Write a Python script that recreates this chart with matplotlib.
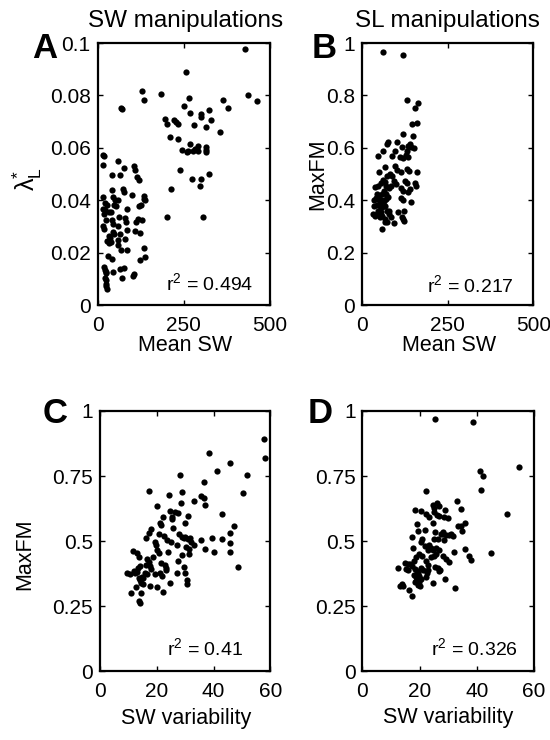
import numpy as np
import matplotlib
matplotlib.use("Agg")
import matplotlib.pyplot as plt

plt.rcParams['font.family'] = ['Liberation Sans', 'DejaVu Sans']
plt.rcParams['mathtext.fontset'] = 'custom'
plt.rcParams['mathtext.rm'] = 'Liberation Sans'
plt.rcParams['mathtext.it'] = 'Liberation Sans:italic'

# panel A: mean SW vs lambda*_L (SW manipulations)
a_x = [430, 256, 130, 136, 184, 69, 71, 267, 250, 268, 301, 301, 323, 329, 315, 281,
       364, 378, 437, 463, 356, 197, 201, 223, 229, 234, 211, 234, 270, 245, 259, 264,
       279, 282, 291, 293, 315, 315, 315, 240, 323, 276, 302, 297, 215, 201, 307,
       17, 19, 15, 59, 41, 66, 78, 105, 108, 116, 120, 17, 41, 44, 51, 75, 76, 59, 100,
       134, 136, 138, 22, 28, 17, 23, 32, 38, 20, 48, 54, 85, 120, 125, 24, 43, 63, 81,
       84, 118, 130, 113, 15, 19, 45, 61, 86, 108, 124, 44, 49, 32, 36, 64, 29, 32, 59,
       81, 39, 67, 86, 59, 136, 30, 41, 123, 137, 18, 22, 25, 46, 66, 77, 71, 102, 107,
       23, 25, 25, 26, 27, 24]
a_y = [0.0978, 0.089, 0.0818, 0.0784, 0.0805, 0.0754, 0.0748, 0.0791, 0.0758, 0.0733,
       0.0729, 0.0718, 0.0743, 0.0705, 0.068, 0.0687, 0.0784, 0.0754, 0.0802, 0.0777,
       0.0659, 0.0709, 0.0691, 0.0707, 0.070, 0.069, 0.0641, 0.0634, 0.0614, 0.0593,
       0.0584, 0.0587, 0.0588, 0.0597, 0.0606, 0.0587, 0.0603, 0.0584, 0.0593, 0.0517,
       0.0501, 0.0481, 0.0481, 0.0453, 0.0443, 0.0337, 0.0337,
       0.0574, 0.0567, 0.0533, 0.0551, 0.0495, 0.0495, 0.0524, 0.0532, 0.0517, 0.049,
       0.0476, 0.0412, 0.044, 0.0412, 0.0402, 0.0444, 0.0431, 0.0402, 0.0419, 0.0415,
       0.0406, 0.040, 0.0389, 0.038, 0.0368, 0.0361, 0.0357, 0.0354, 0.0349, 0.0383,
       0.0377, 0.0368, 0.0379, 0.038, 0.0326, 0.0326, 0.0336, 0.0332, 0.0317, 0.033,
       0.0326, 0.0316, 0.030, 0.029, 0.0309, 0.030, 0.0288, 0.0284, 0.0275, 0.0277,
       0.0272, 0.0265, 0.0256, 0.0271, 0.0243, 0.0237, 0.0247, 0.0252, 0.024, 0.0211,
       0.0211, 0.023, 0.0218, 0.0188, 0.0176, 0.0173, 0.0183, 0.0145, 0.0135, 0.0125,
       0.0126, 0.0137, 0.0142, 0.0103, 0.0109, 0.0118, 0.0103, 0.0094, 0.0081, 0.0071,
       0.0061, 0.0122]

# panel B: mean SW vs MaxFM (SL manipulations)
b_x = [61, 118, 132, 162, 153, 145, 160, 120, 149, 76, 71, 102, 115, 139, 135, 152, 142,
       47, 60, 86, 96, 130, 110, 118, 128, 134, 50, 66, 96, 102, 112, 132, 137, 161,
       73, 81, 87, 61, 65, 56, 93, 98, 126, 130, 153, 157, 37, 45, 69, 77, 83, 112, 120,
       139, 135, 42, 50, 57, 63, 69, 76, 34, 40, 47, 52, 58, 56, 63, 69, 112, 118, 141,
       34, 42, 52, 59, 67, 45, 54, 71, 79, 32, 38, 44, 52, 59, 66, 77, 84, 105, 122,
       118, 122, 116, 93, 57, 66, 73]
b_y = [0.967, 0.955, 0.784, 0.771, 0.752, 0.691, 0.693, 0.651, 0.644, 0.621, 0.613,
       0.623, 0.604, 0.614, 0.608, 0.600, 0.602, 0.570, 0.589, 0.570, 0.589, 0.589,
       0.566, 0.560, 0.573, 0.564, 0.509, 0.525, 0.532, 0.517, 0.506, 0.519, 0.513,
       0.506, 0.494, 0.500, 0.491, 0.478, 0.471, 0.466, 0.475, 0.462, 0.475, 0.466,
       0.466, 0.455, 0.449, 0.453, 0.455, 0.445, 0.455, 0.445, 0.435, 0.443, 0.430,
       0.424, 0.417, 0.424, 0.434, 0.424, 0.411, 0.402, 0.410, 0.405, 0.394, 0.402,
       0.392, 0.398, 0.405, 0.407, 0.400, 0.392, 0.379, 0.382, 0.379, 0.373, 0.379,
       0.360, 0.356, 0.360, 0.360, 0.347, 0.341, 0.346, 0.335, 0.341, 0.328, 0.347,
       0.335, 0.354, 0.360, 0.328, 0.322, 0.335, 0.313, 0.290, 0.318, 0.316]

# panel C: SW variability vs MaxFM (SW manipulations)
c_x = [57.8, 58.1, 38.4, 41.2, 45.6, 51.7, 28.2, 36.5, 50.3, 17.4, 29.0, 24.3, 35.6,
       36.5, 36.9, 33.1, 28.5, 20.2, 42.8, 24.6, 26.3, 27.5, 25.3, 25.4, 22.0, 31.0,
       21.0, 21.3, 30.0, 25.7, 18.1, 20.6, 17.3, 16.1, 22.5, 27.8, 28.8, 29.4, 30.0,
       31.0, 31.8, 32.0, 33.0, 23.6, 19.2, 19.6, 25.1, 27.1, 30.4, 31.2, 31.3, 35.6,
       39.5, 42.8, 45.9, 47.0, 45.9, 36.8, 40.1, 45.9, 48.6, 23.9, 20.1, 20.6, 11.7,
       13.1, 13.6, 16.6, 17.3, 18.7, 16.1, 21.5, 22.8, 23.2, 23.4, 27.6, 29.0, 29.5,
       30.0, 17.5, 18.0, 14.0, 13.2, 11.9, 12.4, 12.9, 9.4, 10.5, 15.8, 16.6, 14.7,
       15.2, 13.6, 14.0, 19.3, 21.0, 21.8, 24.7, 27.1, 30.6, 30.6, 12.6, 14.6, 15.0,
       17.5, 19.9, 22.2, 10.8, 14.6, 13.8, 14.0]
c_y = [0.891, 0.818, 0.840, 0.771, 0.801, 0.754, 0.754, 0.728, 0.683, 0.692, 0.690,
       0.676, 0.674, 0.664, 0.640, 0.653, 0.647, 0.635, 0.604, 0.617, 0.613, 0.606,
       0.594, 0.583, 0.591, 0.596, 0.568, 0.560, 0.569, 0.550, 0.546, 0.527, 0.532,
       0.510, 0.519, 0.527, 0.517, 0.510, 0.514, 0.506, 0.510, 0.497, 0.485, 0.504,
       0.497, 0.485, 0.497, 0.485, 0.478, 0.468, 0.450, 0.504, 0.513, 0.509, 0.532,
       0.558, 0.494, 0.470, 0.458, 0.458, 0.401, 0.458, 0.465, 0.453, 0.460, 0.453,
       0.440, 0.431, 0.421, 0.440, 0.408, 0.417, 0.408, 0.395, 0.388, 0.424, 0.445,
       0.399, 0.378, 0.403, 0.392, 0.405, 0.397, 0.386, 0.376, 0.379, 0.376, 0.374,
       0.378, 0.374, 0.363, 0.359, 0.356, 0.350, 0.372, 0.378, 0.365, 0.337, 0.376,
       0.351, 0.335, 0.324, 0.340, 0.333, 0.327, 0.322, 0.305, 0.299, 0.299, 0.271,
       0.260]

# panel D: SW variability vs MaxFM (SL manipulations)
d_x = [25.5, 38.8, 54.7, 41.2, 42.3, 41.4, 50.5, 22.2, 45.1, 33.2, 34.6, 36.0, 33.6,
       34.4, 34.9, 24.6, 26.0, 26.7, 25.1, 18.5, 20.6, 22.2, 23.2, 25.1, 26.0, 26.7,
       29.0, 28.7, 29.8, 19.2, 24.6, 21.8, 25.5, 28.1, 27.5, 28.3, 29.2, 30.2, 31.1,
       31.8, 25.0, 26.3, 28.7, 17.5, 19.4, 20.8, 20.4, 21.8, 23.4, 24.0, 24.6, 22.9,
       25.7, 26.7, 25.7, 25.0, 17.8, 36.0, 37.4, 38.0, 32.0, 28.3, 29.2, 30.4, 19.9,
       18.9, 20.8, 22.2, 24.0, 18.2, 16.8, 17.5, 15.8, 15.0, 12.3, 15.4, 16.1, 18.5,
       19.0, 19.4, 20.5, 21.3, 22.9, 22.8, 25.3, 26.4, 27.1, 26.9, 18.0, 18.7, 19.4,
       19.9, 20.6, 18.9, 19.9, 18.5, 19.4, 20.1, 22.5, 22.2, 28.8, 24.8, 32.5, 13.8,
       14.3, 13.3, 16.4, 17.5]
d_y = [0.969, 0.958, 0.783, 0.770, 0.751, 0.695, 0.605, 0.691, 0.453, 0.653, 0.623,
       0.570, 0.559, 0.557, 0.540, 0.638, 0.645, 0.635, 0.626, 0.621, 0.614, 0.604,
       0.591, 0.610, 0.601, 0.596, 0.621, 0.594, 0.589, 0.566, 0.568, 0.543, 0.536,
       0.534, 0.528, 0.526, 0.525, 0.523, 0.528, 0.521, 0.508, 0.508, 0.504, 0.515,
       0.538, 0.507, 0.496, 0.479, 0.483, 0.474, 0.466, 0.464, 0.474, 0.466, 0.451,
       0.442, 0.474, 0.470, 0.442, 0.428, 0.458, 0.441, 0.432, 0.419, 0.451, 0.438,
       0.444, 0.425, 0.438, 0.425, 0.410, 0.405, 0.410, 0.415, 0.397, 0.393, 0.389,
       0.392, 0.383, 0.377, 0.397, 0.387, 0.406, 0.390, 0.400, 0.397, 0.390, 0.383,
       0.368, 0.361, 0.355, 0.364, 0.355, 0.346, 0.341, 0.341, 0.330, 0.326, 0.377,
       0.361, 0.355, 0.338, 0.319, 0.333, 0.327, 0.328, 0.313, 0.289]

r2_text = ['0.494', '0.217', '0.41', '0.326']
letters = ['A', 'B', 'C', 'D']

fig = plt.figure(figsize=(5.5, 7.4), dpi=100)
axA = fig.add_axes([0.1773, 0.5878, 0.3127, 0.354])
axB = fig.add_axes([0.6587, 0.5878, 0.3109, 0.354])
axC = fig.add_axes([0.1818, 0.0932, 0.3100, 0.3514])
axD = fig.add_axes([0.6590, 0.0932, 0.3118, 0.3514])
axes = [axA, axB, axC, axD]
data = [(a_x, a_y), (b_x, b_y), (c_x, c_y), (d_x, d_y)]

for ax, (x, y) in zip(axes, data):
    ax.plot(x, y, 'o', color='black', ms=4.5, mew=0)
    for s in ax.spines.values():
        s.set_linewidth(1.6)
    ax.tick_params(direction='in', length=3.5, width=1, top=True, right=True,
                   labelsize=15)
    ax.tick_params(axis='x', pad=8)
    ax.tick_params(axis='y', pad=5)

for ax in [axA, axB]:
    ax.set_xlim(0, 500)
    ax.set_xticks([0, 250, 500])
    ax.set_xticklabels(['0', '250', '500'])
    ax.set_xlabel('Mean SW', fontsize=15.5)
axA.set_ylim(0, 0.1)
axA.set_yticks([0, 0.02, 0.04, 0.06, 0.08, 0.1])
axA.set_yticklabels(['0', '0.02', '0.04', '0.06', '0.08', '0.1'])
axB.set_ylim(0, 1)
axB.set_yticks([0, 0.2, 0.4, 0.6, 0.8, 1])
axB.set_yticklabels(['0', '0.2', '0.4', '0.6', '0.8', '1'])

for ax in [axC, axD]:
    ax.set_xlim(0, 60)
    ax.set_xticks([0, 20, 40, 60])
    ax.set_ylim(0, 1)
    ax.set_yticks([0, 0.25, 0.5, 0.75, 1])
    ax.set_yticklabels(['0', '0.25', '0.5', '0.75', '1'])
    ax.set_xlabel('SW variability', fontsize=15.5)

axA.set_ylabel(r'$\mathrm{\lambda}^{*}_{\mathrm{L}}$', fontsize=18)
axB.set_ylabel('MaxFM', fontsize=15.5)
axC.set_ylabel('MaxFM', fontsize=15.5)

axA.yaxis.set_label_coords(-0.41, 0.48)
axB.yaxis.set_label_coords(-0.26, 0.5)
axC.yaxis.set_label_coords(-0.44, 0.45)
for ax in axes:
    ax.xaxis.set_label_coords(0.51, -0.155)
    ax.xaxis.label.set_va('center')
    ax.yaxis.label.set_va('center')
axC.xaxis.set_label_coords(0.506, -0.183)
axD.xaxis.set_label_coords(0.5, -0.18)

r2_pos = [(0.905, 0.084), (0.885, 0.076), (0.84, 0.088), (0.907, 0.088)]
for ax, t, (px, py) in zip(axes, r2_text, r2_pos):
    ax.text(px, py, r'r$^2$ = ' + t, transform=ax.transAxes, ha='right',
            va='center', fontsize=14)

letter_pos = [(0.058, 0.9216), (0.567, 0.9216), (0.078, 0.4285), (0.56, 0.4285)]
for l, (px, py) in zip(letters, letter_pos):
    fig.text(px, py, l, fontsize=25, fontweight='bold', ha='left', va='baseline')

fig.text(0.338, 0.9635, 'SW manipulations', fontsize=17.5, ha='center', va='baseline')
fig.text(0.813, 0.9635, 'SL manipulations', fontsize=17.5, ha='center', va='baseline')

fig.savefig('out.png', dpi=100)
